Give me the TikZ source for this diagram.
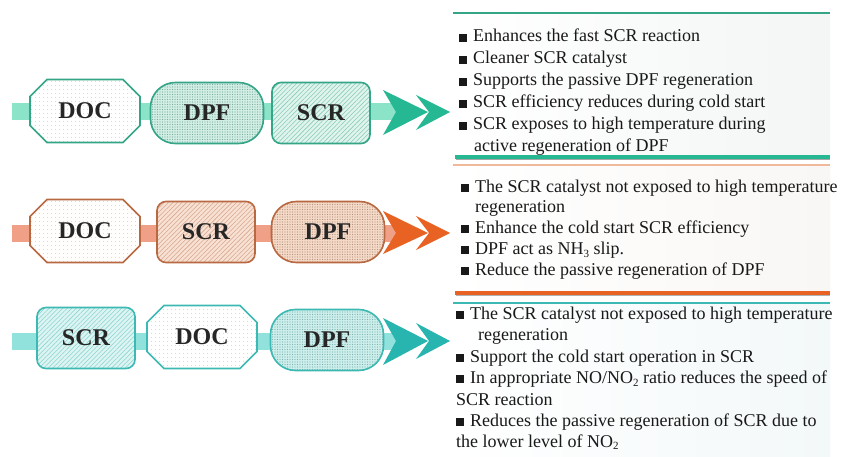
\documentclass[tikz,border=0pt]{standalone}
\usepackage{fontspec}
\setmainfont{Liberation Serif}
\usetikzlibrary{shapes.misc,patterns.meta}
\definecolor{tgB}{RGB}{52,165,135}
\definecolor{tgP}{RGB}{140,228,200}
\definecolor{tgA}{RGB}{38,184,146}
\definecolor{tgL}{RGB}{210,239,230}
\definecolor{orB}{RGB}{185,105,65}
\definecolor{orP}{RGB}{240,160,135}
\definecolor{orA}{RGB}{232,98,35}
\definecolor{orL}{RGB}{246,218,200}
\definecolor{orT}{RGB}{240,185,155}
\definecolor{cyB}{RGB}{60,185,178}
\definecolor{cyP}{RGB}{145,226,220}
\definecolor{cyA}{RGB}{40,180,175}
\definecolor{cyL}{RGB}{205,239,236}
\newcommand{\blt}{\rule[0.2pt]{8pt}{8pt}\hspace{6pt}}
\newcommand{\lowsub}[1]{\raisebox{-2.5pt}{\fontsize{11}{11}\selectfont #1}}
\tikzset{
  unitbox/.style={draw=#1, line width=1.6pt, inner sep=0pt,
    font=\fontsize{24}{24}\selectfont\bfseries, text=black!85},
  docbox/.style 2 args={unitbox=#1, chamfered rectangle,
    chamfered rectangle xsep=9pt, chamfered rectangle ysep=9pt,
    minimum width=110pt, minimum height=63pt,
    preaction={fill=#2},
    pattern={Dots[distance=4pt,radius=0.5pt]}, pattern color=gray!50},
  dpfbox/.style 2 args={unitbox=#1, rectangle, rounded corners=25pt,
    minimum width=113pt, minimum height=61pt,
    preaction={fill=#2},
    pattern={Dots[distance=2.5pt,radius=0.6pt]}, pattern color=#1!70!black!60},
  scrbox/.style 2 args={unitbox=#1, rectangle, rounded corners=9pt,
    minimum width=98pt, minimum height=61pt,
    preaction={fill=#2},
    pattern={Lines[angle=45,distance=3.2pt,line width=0.55pt]}, pattern color=#1!60},
  pipe/.style={fill=#1, draw=none, minimum width=386pt, minimum height=17pt, inner sep=0pt},
  txt/.style={anchor=base west, inner sep=0pt, font=\fontsize{18}{21}\selectfont, text=black!90},
}
\begin{document}
\begin{tikzpicture}[x=1pt,y=-1pt]
\useasboundingbox (0,0) rectangle (845,457);
\fill[white] (0,0) rectangle (845,457);
% panel backgrounds
\fill[left color=white, right color={rgb,255:red,243;green,246;blue,245}] (453,14) rectangle (830,156);
\fill[left color=white, right color={rgb,255:red,249;green,247;blue,245}] (453,166) rectangle (830,291);
\fill[left color=white, right color={rgb,255:red,243;green,248;blue,249}] (453,304) rectangle (830,457);
% separators
\draw[tgB, line width=1.5pt] (453,13) -- (830,13);
\draw[black!35, line width=1.5pt] (456,159.5) -- (830,159.5);
\draw[tgA, line width=4pt] (455,157) -- (830,157);
\draw[orT, line width=1.5pt] (453,165) -- (830,165);
\draw[black!30, line width=1.5pt] (456,295.5) -- (830,295.5);
\draw[orA, line width=4pt] (455,293) -- (830,293);
\draw[cyB, line width=1.2pt] (453,303) -- (830,303);

% row 1
\node[pipe=tgP] (p1) at (205,112) {};
\fill[tgA] (383,90) -- (428,112) -- (383,135) -- (396,112) -- cycle;
\fill[tgA] (416,95) -- (450,112) -- (416,130) -- (429,112) -- cycle;
\node[docbox={tgB}{white!97!tgL}] (doc1) at (85,111) {DOC};
\node[dpfbox={tgB}{tgL}] (dpf1) at (207,113) {DPF};
\node[scrbox={tgB}{tgL!70!white}] (scr1) at (321,113) {SCR};

% row 2
\node[pipe=orP] (p2) at (205,233) {};
\fill[orA] (383,211) -- (428,233) -- (383,254) -- (396,233) -- cycle;
\fill[orA] (416,216) -- (450,233) -- (416,250) -- (429,233) -- cycle;
\node[docbox={orB}{white!97!orL}] (doc2) at (85,231) {DOC};
\node[scrbox={orB}{orL!80!white}] (scr2) at (206,232) {SCR};
\node[dpfbox={orB}{orL}] (dpf2) at (328,232) {DPF};

% row 3
\node[pipe=cyP] (p3) at (205,341) {};
\fill[cyA] (383,318) -- (428,341) -- (383,365) -- (396,341) -- cycle;
\fill[cyA] (416,323) -- (450,341) -- (416,359) -- (429,341) -- cycle;
\node[scrbox={cyB}{cyL!70!white}] (scr3) at (86,338) {SCR};
\node[docbox={cyB}{white!97!cyL}] (doc3) at (202,337) {DOC};
\node[dpfbox={cyB}{cyL}] (dpf3) at (327,340) {DPF};

% text row 1
\node[txt] (a1) at (459,42) {\blt Enhances the fast SCR reaction};
\node[txt] (a2) at (459,64) {\blt Cleaner SCR catalyst};
\node[txt] (a3) at (459,86) {\blt Supports the passive DPF regeneration};
\node[txt] (a4) at (459,108) {\blt SCR efficiency reduces during cold start};
\node[txt] (a5) at (459,130) {\blt SCR exposes to high temperature during};
\node[txt] (a6) at (474,151.5) {active regeneration of DPF};

% text row 2
\node[txt] (b1) at (461,192) {\blt The SCR catalyst not exposed to high temperature};
\node[txt] (b2) at (475,212.5) {regeneration};
\node[txt] (b3) at (461,233.5) {\blt Enhance the cold start SCR efficiency};
\node[txt] (b4) at (461,254.5) {\blt DPF act as NH\lowsub{3} slip.};
\node[txt] (b5) at (461,275.5) {\blt Reduce the passive regeneration of DPF};

% text row 3
\node[txt] (c1) at (456,319.5) {\blt The SCR catalyst not exposed to high temperature};
\node[txt] (c2) at (478,340.5) {regeneration};
\node[txt] (c3) at (456,362) {\blt Support the cold start operation in SCR};
\node[txt] (c4) at (456,383.5) {\blt In appropriate NO/NO\lowsub{2} ratio reduces the speed of};
\node[txt] (c5) at (456,405) {SCR reaction};
\node[txt] (c6) at (456,426.5) {\blt Reduces the passive regeneration of SCR due to};
\node[txt] (c7) at (456,447) {the lower level of NO\lowsub{2}};
\end{tikzpicture}
\end{document}
